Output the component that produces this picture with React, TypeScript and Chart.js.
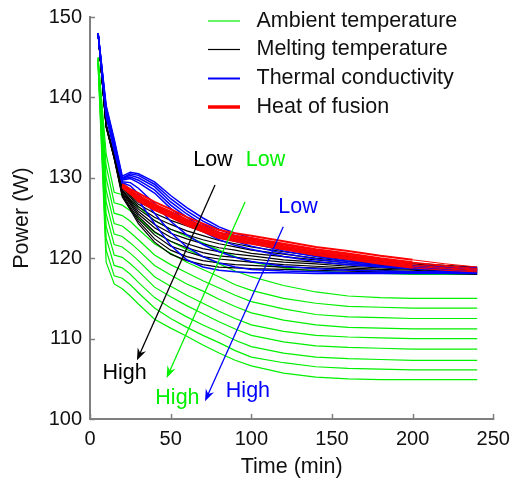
import React, { useEffect, useRef } from 'react';
import { Chart, registerables } from 'chart.js';

Chart.register(...registerables);

// ---- data ----
const timeMin = [5, 10, 15, 20, 25, 30, 40, 50, 60, 70, 80, 90, 100, 120, 140, 160, 180, 200, 220, 240];

const ambientTemperature: number[][] = [
  [145.0, 133.0, 128.2, 127.9, 127.2, 126.4, 124.7, 123.6, 122.7, 121.9, 121.0, 120.2, 119.5, 118.8, 118.4, 118.2, 118.1, 118.0, 118.0, 118.0],
  [145.0, 131.5, 126.9, 126.6, 125.9, 125.0, 123.2, 122.1, 121.1, 120.2, 119.3, 118.4, 117.7, 116.6, 115.8, 115.3, 115.1, 115.0, 115.0, 115.0],
  [144.8, 130.0, 125.6, 125.3, 124.6, 123.6, 121.8, 120.6, 119.5, 118.6, 117.7, 116.7, 116.0, 115.0, 114.4, 114.0, 113.9, 113.8, 113.8, 113.8],
  [144.8, 128.5, 124.3, 124.0, 123.2, 122.3, 120.4, 119.2, 118.2, 117.2, 116.3, 115.4, 114.6, 113.7, 113.0, 112.7, 112.6, 112.5, 112.5, 112.5],
  [144.6, 127.0, 123.0, 122.7, 121.9, 121.0, 119.1, 117.9, 116.8, 115.9, 114.9, 114.0, 113.2, 112.3, 111.7, 111.4, 111.3, 111.2, 111.2, 111.2],
  [144.6, 125.5, 121.7, 121.4, 120.6, 119.7, 117.7, 116.5, 115.4, 114.4, 113.4, 112.5, 111.7, 110.9, 110.4, 110.2, 110.1, 110.0, 110.0, 110.0],
  [144.4, 124.0, 120.4, 120.1, 119.3, 118.4, 116.4, 115.2, 114.1, 113.1, 112.1, 111.2, 110.4, 109.6, 109.1, 108.9, 108.8, 108.7, 108.7, 108.7],
  [144.4, 122.5, 119.1, 118.8, 118.0, 117.0, 115.1, 113.8, 112.7, 111.7, 110.8, 109.8, 109.0, 108.2, 107.7, 107.5, 107.4, 107.3, 107.3, 107.3],
  [144.2, 121.0, 117.8, 117.5, 116.7, 115.7, 113.8, 112.5, 111.4, 110.4, 109.5, 108.5, 107.7, 107.0, 106.5, 106.3, 106.2, 106.1, 106.1, 106.1],
  [144.2, 119.5, 116.8, 116.2, 115.3, 114.3, 112.4, 111.3, 110.3, 109.2, 108.2, 107.3, 106.6, 105.7, 105.2, 105.0, 104.9, 104.9, 104.9, 104.9],
];

const meltingTemperature: number[][] = [
  [148.0, 136.6, 132.8, 129.0, 128.0, 127.0, 126.0, 125.2, 124.5, 123.8, 123.2, 122.7, 122.2, 121.4, 120.8, 120.2, 119.8, 119.4, 119.1, 118.9],
  [148.0, 136.6, 132.8, 128.8, 127.8, 126.7, 125.6, 124.7, 124.0, 123.3, 122.7, 122.3, 121.8, 121.1, 120.5, 120.0, 119.6, 119.3, 119.0, 118.8],
  [148.0, 136.6, 132.7, 128.7, 127.6, 126.4, 125.1, 124.2, 123.4, 122.8, 122.2, 121.8, 121.4, 120.8, 120.3, 119.8, 119.5, 119.1, 118.9, 118.7],
  [148.0, 136.5, 132.7, 128.5, 127.3, 126.1, 124.7, 123.6, 122.9, 122.3, 121.8, 121.4, 121.0, 120.5, 120.0, 119.6, 119.3, 119.0, 118.8, 118.6],
  [148.0, 136.5, 132.6, 128.4, 127.1, 125.8, 124.2, 123.1, 122.4, 121.8, 121.3, 121.0, 120.6, 120.2, 119.8, 119.4, 119.1, 118.9, 118.7, 118.5],
  [148.0, 136.5, 132.6, 128.2, 126.9, 125.5, 123.8, 122.6, 121.8, 121.2, 120.8, 120.5, 120.3, 119.8, 119.5, 119.2, 119.0, 118.7, 118.5, 118.4],
  [148.0, 136.4, 132.5, 128.1, 126.7, 125.2, 123.3, 122.1, 121.3, 120.7, 120.3, 120.1, 119.9, 119.5, 119.3, 119.0, 118.8, 118.6, 118.4, 118.3],
  [148.0, 136.4, 132.5, 127.9, 126.4, 124.9, 122.9, 121.5, 120.8, 120.2, 119.9, 119.7, 119.5, 119.2, 119.0, 118.8, 118.6, 118.5, 118.3, 118.2],
  [148.0, 136.3, 132.4, 127.8, 126.2, 124.6, 122.4, 121.0, 120.2, 119.7, 119.4, 119.2, 119.1, 118.9, 118.8, 118.6, 118.5, 118.3, 118.2, 118.1],
  [148.0, 136.3, 132.4, 127.6, 126.0, 124.3, 122.0, 120.5, 119.7, 119.2, 118.9, 118.8, 118.7, 118.6, 118.5, 118.4, 118.3, 118.2, 118.1, 118.0],
];

const thermalConductivity: number[][] = [
  [148.0, 139.0, 134.8, 130.2, 130.7, 130.5, 129.5, 127.8, 126.3, 125.0, 123.9, 123.1, 122.5, 121.5, 120.7, 120.0, 119.5, 119.1, 118.9, 118.8],
  [148.0, 138.8, 134.6, 130.0, 130.5, 130.3, 129.2, 127.4, 125.9, 124.6, 123.6, 122.8, 122.2, 121.2, 120.4, 119.8, 119.3, 119.0, 118.8, 118.7],
  [148.0, 138.6, 134.4, 129.9, 130.3, 130.0, 128.9, 127.0, 125.5, 124.2, 123.2, 122.5, 121.9, 120.9, 120.2, 119.6, 119.2, 118.9, 118.7, 118.6],
  [148.0, 138.4, 134.2, 129.8, 130.1, 129.7, 128.5, 126.6, 125.1, 123.8, 122.8, 122.1, 121.5, 120.6, 119.9, 119.4, 119.0, 118.8, 118.6, 118.5],
  [148.0, 138.2, 134.0, 129.7, 129.9, 129.4, 128.1, 126.2, 124.6, 123.3, 122.3, 121.6, 121.1, 120.2, 119.6, 119.2, 118.9, 118.7, 118.5, 118.4],
  [148.0, 138.0, 133.8, 129.5, 129.4, 128.7, 126.8, 124.6, 122.9, 121.7, 120.8, 120.1, 119.6, 119.0, 118.7, 118.5, 118.4, 118.3, 118.3, 118.3],
  [148.0, 137.8, 133.6, 129.4, 129.0, 128.0, 125.6, 123.2, 121.4, 120.2, 119.4, 118.9, 118.6, 118.4, 118.3, 118.2, 118.2, 118.2, 118.2, 118.2],
  [148.0, 137.6, 133.4, 129.3, 128.5, 127.2, 124.3, 121.6, 119.8, 118.9, 118.5, 118.3, 118.2, 118.2, 118.1, 118.1, 118.1, 118.1, 118.1, 118.1],
];

const heatOfFusion: (number | null)[][] = [
  [null, null, null, 129.2, 128.6, 128.1, 127.0, 126.1, 125.1, 124.3, 123.5, 123.1, 122.8, 122.1, 121.4, 120.9, 120.3, 119.8, 119.3, 118.9],
  [null, null, null, 129.1, 128.4, 127.8, 126.7, 125.8, 124.8, 124.0, 123.2, 122.8, 122.5, 121.8, 121.1, 120.6, 120.0, 119.5, 119.1, 118.7],
  [null, null, null, 129.0, 128.3, 127.7, 126.6, 125.7, 124.7, 123.9, 123.1, 122.7, 122.4, 121.7, 121.0, 120.5, 119.9, 119.4, 119.0, 118.6],
  [null, null, null, 129.0, 128.2, 127.5, 126.4, 125.5, 124.5, 123.7, 122.9, 122.5, 122.2, 121.5, 120.8, 120.3, 119.7, 119.2, 118.8, 118.5],
  [null, null, null, 128.9, 128.1, 127.3, 126.2, 125.3, 124.3, 123.5, 122.7, 122.3, 122.0, 121.3, 120.6, 120.1, 119.5, 119.0, 118.7, 118.4],
  [null, null, null, 128.8, 128.0, 127.1, 126.0, 125.1, 124.1, 123.3, 122.5, 122.1, 121.8, 121.1, 120.4, 119.9, 119.3, 118.8, 118.5, 118.3],
];

const xTickStep = 50;
const yTickStep = 10;

const legendLabels = ['Ambient temperature', 'Melting temperature', 'Thermal conductivity', 'Heat of fusion'];
const legendColors = ['#00f000', '#000000', '#0000ff', '#ff0000'];

// annotation arrows (data units)
const arrowColors = ['#000000', '#00f000', '#0000ff'];
const arrowFrom = [[77.5, 129.1], [96.1, 127.0], [119.8, 123.9]];
const arrowTo = [[29.1, 107.3], [47.5, 105.1], [71.3, 102.2]];
const lowLabelAt = [[76.2, 132.2], [108.8, 132.2], [128.9, 126.3]];
const highLabelAt = [[21.4, 105.7], [54.2, 102.6], [97.9, 103.5]];

const FONT = '"Liberation Sans", Arial, Helvetica, sans-serif';
const TEXT_SIZE = 21.5;

export default function App() {
  const ref = useRef<HTMLCanvasElement>(null);

  useEffect(() => {
    if (!ref.current) return;
    const toPts = (vals: (number | null)[]) => vals.map((v, j) => ({ x: timeMin[j], y: v }));
    const mk = (series: (number | null)[][], name: string, color: string, width: number, thinAfter?: number) =>
      series.map((vals, i) => ({
        label: `${name} ${i + 1}`,
        data: toPts(vals),
        borderColor: color,
        borderWidth: width,
        pointRadius: 0,
        fill: false,
        tension: 0,
        spanGaps: false,
        segment: thinAfter !== undefined ? { borderWidth: (c: any) => (c.p0.parsed.x >= thinAfter ? 1 : width) } : undefined,
      }));

    const datasets: any[] = [
      ...mk(heatOfFusion, 'Heat of fusion', '#ff0000', 2, 200),
      ...mk(thermalConductivity, 'Thermal conductivity', '#0000ff', 1.5),
      ...mk(meltingTemperature, 'Melting temperature', '#000000', 1.2),
      ...mk(ambientTemperature, 'Ambient temperature', '#00f000', 1.2),
    ];

    const overlay = {
      id: 'overlay',
      afterDraw(chart: any) {
        const ctx = chart.ctx as CanvasRenderingContext2D;
        const xs = chart.scales.x;
        const ys = chart.scales.y;
        const { left, right, top, bottom } = chart.chartArea;
        ctx.save();
        // axes
        ctx.strokeStyle = '#7f7f7f';
        ctx.lineWidth = 2;
        ctx.beginPath();
        ctx.moveTo(left, top - 1);
        ctx.lineTo(left, bottom);
        ctx.lineTo(right + 1, bottom);
        ctx.stroke();
        ctx.lineWidth = 1.5;
        ctx.beginPath();
        for (let v = 100; v <= 150; v += yTickStep) {
          const py = Math.round(ys.getPixelForValue(v)) + 0.5;
          ctx.moveTo(left, py);
          ctx.lineTo(left + 5, py);
        }
        for (let v = 0; v <= 250; v += xTickStep) {
          const px = Math.round(xs.getPixelForValue(v)) + 0.5;
          ctx.moveTo(px, bottom);
          ctx.lineTo(px, bottom - 5);
        }
        ctx.stroke();

        // arrows + Low/High labels
        for (let i = 0; i < arrowColors.length; i++) {
          const x0 = xs.getPixelForValue(arrowFrom[i][0]);
          const y0 = ys.getPixelForValue(arrowFrom[i][1]);
          const x1 = xs.getPixelForValue(arrowTo[i][0]);
          const y1 = ys.getPixelForValue(arrowTo[i][1]);
          const ang = Math.atan2(y1 - y0, x1 - x0);
          ctx.strokeStyle = arrowColors[i];
          ctx.fillStyle = arrowColors[i];
          ctx.lineWidth = 1.3;
          ctx.beginPath();
          ctx.moveTo(x0, y0);
          ctx.lineTo(x1 - 6 * Math.cos(ang), y1 - 6 * Math.sin(ang));
          ctx.stroke();
          const L = 12, W = 4.5, N = 8;
          const bx = x1 - L * Math.cos(ang), by = y1 - L * Math.sin(ang);
          const nx = x1 - N * Math.cos(ang), ny = y1 - N * Math.sin(ang);
          const px = -Math.sin(ang), py = Math.cos(ang);
          ctx.beginPath();
          ctx.moveTo(x1, y1);
          ctx.lineTo(bx + W * px, by + W * py);
          ctx.lineTo(nx, ny);
          ctx.lineTo(bx - W * px, by - W * py);
          ctx.closePath();
          ctx.fill();
          ctx.font = `${TEXT_SIZE}px ${FONT}`;
          ctx.textAlign = 'center';
          ctx.textBaseline = 'middle';
          ctx.fillText('Low', xs.getPixelForValue(lowLabelAt[i][0]), ys.getPixelForValue(lowLabelAt[i][1]));
          ctx.fillText('High', xs.getPixelForValue(highLabelAt[i][0]), ys.getPixelForValue(highLabelAt[i][1]));
        }

        // legend
        const rowY = [21, 49.5, 78.5, 107];
        const widths = [1.2, 1.2, 2, 3.5];
        for (let i = 0; i < legendLabels.length; i++) {
          ctx.strokeStyle = legendColors[i];
          ctx.lineWidth = widths[i];
          ctx.beginPath();
          ctx.moveTo(208, rowY[i]);
          ctx.lineTo(240, rowY[i]);
          ctx.stroke();
          ctx.fillStyle = '#111';
          ctx.font = `${TEXT_SIZE}px ${FONT}`;
          ctx.textAlign = 'left';
          ctx.textBaseline = 'middle';
          ctx.fillText(legendLabels[i], 256.5, rowY[i]);
        }

        // axis titles
        ctx.fillStyle = '#111';
        ctx.font = `${TEXT_SIZE}px ${FONT}`;
        ctx.textAlign = 'center';
        ctx.textBaseline = 'middle';
        ctx.fillText('Time (min)', (left + right) / 2, 467);
        ctx.save();
        ctx.translate(22, (top + bottom) / 2);
        ctx.rotate(-Math.PI / 2);
        ctx.fillText('Power (W)', 0, 0);
        ctx.restore();
        ctx.restore();
      },
    };

    const chart = new Chart(ref.current, {
      type: 'line',
      data: { datasets },
      options: {
        responsive: false,
        animation: false,
        events: [],
        layout: { padding: { left: 0, right: 19.7, top: 17, bottom: 0 } },
        plugins: { legend: { display: false }, tooltip: { enabled: false } },
        scales: {
          x: {
            type: 'linear',
            min: 0,
            max: 250,
            ticks: { stepSize: xTickStep, padding: 8, color: '#111', font: { family: FONT, size: 20 } },
            grid: { display: false, drawTicks: false },
            border: { display: false },
            afterFit: (s: any) => { s.height = 66; s.paddingLeft = 0; s.paddingRight = 0; },
          },
          y: {
            type: 'linear',
            min: 100,
            max: 150,
            ticks: { stepSize: yTickStep, padding: 8, color: '#111', font: { family: FONT, size: 20 } },
            grid: { display: false, drawTicks: false },
            border: { display: false },
            afterFit: (s: any) => { s.width = 90; s.paddingTop = 0; s.paddingBottom = 0; },
          },
        },
      } as any,
      plugins: [overlay],
    });
    return () => chart.destroy();
  }, []);

  return (
    <div style={{ position: 'absolute', left: 0, top: 0, width: 513, height: 485, background: '#fff' }}>
      <canvas ref={ref} width={513} height={485} style={{ width: 513, height: 485, display: 'block' }} />
    </div>
  );
}
